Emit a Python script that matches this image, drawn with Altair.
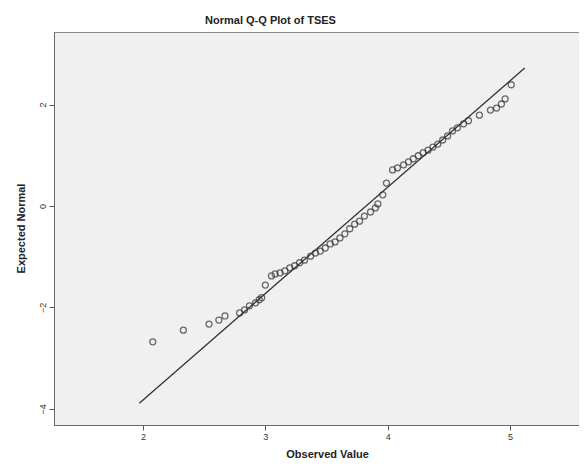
import altair as alt
import pandas as pd

obs = [2.08, 2.33, 2.54, 2.62, 2.67, 2.79, 2.83, 2.87, 2.92, 2.95, 2.97, 3.00,
       3.05, 3.08, 3.12, 3.16, 3.20, 3.24, 3.28, 3.32, 3.37, 3.41, 3.45, 3.49,
       3.53, 3.57, 3.61, 3.65, 3.69, 3.73, 3.77, 3.81, 3.86, 3.90, 3.92, 3.96,
       3.99, 4.04, 4.08, 4.13, 4.17, 4.21, 4.25, 4.29, 4.33, 4.37, 4.41, 4.45,
       4.49, 4.53, 4.57, 4.62, 4.66, 4.75, 4.84, 4.89, 4.93, 4.96, 5.01]
expected = [-2.68, -2.45, -2.33, -2.25, -2.17, -2.11, -2.05, -1.97, -1.91, -1.85, -1.81, -1.56,
            -1.38, -1.34, -1.32, -1.28, -1.22, -1.18, -1.12, -1.07, -0.99, -0.93, -0.89, -0.83,
            -0.75, -0.71, -0.63, -0.55, -0.45, -0.36, -0.30, -0.20, -0.12, -0.04, 0.04, 0.22,
            0.45, 0.71, 0.75, 0.81, 0.87, 0.93, 0.99, 1.05, 1.10, 1.16, 1.22, 1.30,
            1.38, 1.48, 1.54, 1.62, 1.68, 1.79, 1.89, 1.93, 2.01, 2.11, 2.39]

# Reference line end points
line_x = [1.97, 5.12]
line_y = [-3.89, 2.72]

x_ticks = [2, 3, 4, 5]
y_ticks = [-4, -2, 0, 2]

pts = pd.DataFrame({"obs": obs, "exp": expected})
ln = pd.DataFrame({"obs": line_x, "exp": line_y})

xscale = alt.Scale(domain=[1.2725, 5.564], nice=False, zero=False)
yscale = alt.Scale(domain=[-4.32, 3.43], nice=False, zero=False)

xaxis = alt.Axis(values=x_ticks, format="d", title="Observed Value", grid=False,
                 labelFontSize=9, labelColor="#333", labelPadding=2,
                 tickSize=5, tickColor="#555", domainColor="#666",
                 titleFontSize=11, titleFontWeight="bold", titleColor="#222",
                 titleX=273, titleY=29, titleBaseline="middle", titleAlign="center")
yaxis = alt.Axis(values=y_ticks, format="d", title="Expected Normal", grid=False,
                 labelFontSize=9, labelColor="#333", labelAngle=-90,
                 labelAlign="center", labelBaseline="bottom", labelPadding=2,
                 tickSize=5, tickColor="#555", domainColor="#666",
                 titleFontSize=11, titleFontWeight="bold", titleColor="#222",
                 titleX=-33, titleY=196, titleBaseline="middle", titleAlign="center",
                 titleAngle=-90)

points = alt.Chart(pts).mark_point(shape="circle", filled=False, size=36,
                                   color="#333", strokeWidth=1.3).encode(
    x=alt.X("obs:Q", scale=xscale, axis=xaxis),
    y=alt.Y("exp:Q", scale=yscale, axis=yaxis),
)

line = alt.Chart(ln).mark_line(color="#333", strokeWidth=1.3).encode(
    x=alt.X("obs:Q", scale=xscale),
    y=alt.Y("exp:Q", scale=yscale),
)

chart = alt.layer(line, points).properties(
    width=525, height=393,
    autosize=alt.AutoSizeParams(type="none"),
    padding={"left": 46, "top": 24, "right": 0, "bottom": 35},
    title=alt.TitleParams("Normal Q-Q Plot of TSES", fontSize=11, fontWeight="bold",
                          color="#222", anchor="middle", dx=-46, offset=6),
    background="white",
).configure(font="Liberation Sans").configure_view(
    fill="#f0f0f0", stroke="#888", strokeWidth=1)

chart.save("out.html", embed_options={"renderer": "svg", "actions": False})
